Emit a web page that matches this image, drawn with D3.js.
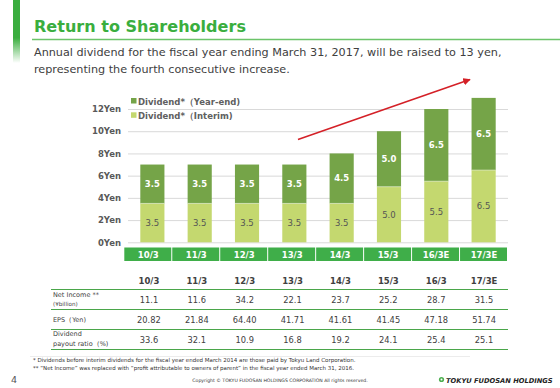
<!DOCTYPE html>
<html><head><meta charset="utf-8">
<script src="https://cdn.jsdelivr.net/npm/d3@7"></script>
<style>
html,body{margin:0;padding:0;background:#fff;}
svg{display:block;font-family:"DejaVu Sans",Verdana,sans-serif;}
</style></head>
<body>
<script>
const categories = ["10/3","11/3","12/3","13/3","14/3","15/3","16/3E","17/3E"];
const interim = [3.5,3.5,3.5,3.5,3.5,5.0,5.5,6.5];
const yearEnd = [3.5,3.5,3.5,3.5,4.5,5.0,6.5,6.5];
const yTicks = [0,2,4,6,8,10,12];
const tableCols = ["10/3","11/3","12/3","13/3","14/3","15/3","16/3","17/3E"];
const netIncome = ["11.1","11.6","34.2","22.1","23.7","25.2","28.7","31.5"];
const eps = ["20.82","21.84","64.40","41.71","41.61","41.45","47.18","51.74"];
const payout = ["33.6","32.1","10.9","16.8","19.2","24.1","25.4","25.1"];

const W=560,H=388;
const svg=d3.select("body").append("svg").attr("width",W).attr("height",H);
const defs=svg.append("defs");
const g1=defs.append("linearGradient").attr("id","vbar").attr("x1",0).attr("x2",0).attr("y1",0).attr("y2",1);
g1.append("stop").attr("offset","0%").attr("stop-color","#3bae3f");
g1.append("stop").attr("offset","60%").attr("stop-color","#3bae3f");
g1.append("stop").attr("offset","100%").attr("stop-color","#3bae3f").attr("stop-opacity",0);
svg.append("rect").attr("x",13).attr("y",0).attr("width",7).attr("height",63).attr("fill","url(#vbar)");

function fit(t,w){const L=t.node().getComputedTextLength(); const fs=parseFloat(t.attr("font-size")); t.attr("font-size",fs*w/L);}

const title=svg.append("text").attr("x",34).attr("y",32).attr("font-size",19).attr("font-weight","bold").attr("fill","#3aae3e").text("Return to Shareholders");
fit(title,212);
svg.append("line").attr("x1",32).attr("x2",560).attr("y1",39.5).attr("y2",39.5).attr("stroke","#6cc46a").attr("stroke-width",1.3);
const s1=svg.append("text").attr("x",34).attr("y",56).attr("font-size",13).attr("fill","#404040").text("Annual dividend for the fiscal year ending March 31, 2017, will be raised to 13 yen,");
fit(s1,468);
const s2=svg.append("text").attr("x",34).attr("y",73).attr("font-size",parseFloat(s1.attr("font-size"))).attr("fill","#404040").text("representing the fourth consecutive increase.");

// chart
const x=d3.scaleBand().domain(categories).range([128,508]).paddingInner(0.49).paddingOuter(0.26);
const y=d3.scaleLinear().domain([0,12]).range([242.3,109]);
const yAxis=d3.axisLeft(y).tickValues(yTicks).tickSize(-(508-128)).tickFormat(d=>d+"Yen");
const ya=svg.append("g").attr("transform","translate(128,0)").call(yAxis);
ya.select(".domain").remove();
ya.selectAll(".tick line").attr("stroke","#d9d9d9").attr("stroke-width",1);
ya.selectAll(".tick text").attr("x",-7).attr("font-size",8.5).attr("font-weight","bold").attr("fill","#595959").attr("font-family","DejaVu Sans,Verdana,sans-serif");

const bars=svg.append("g");
categories.forEach((c,i)=>{
  const bx=x(c), bw=x.bandwidth();
  bars.append("rect").attr("x",bx).attr("width",bw).attr("y",y(interim[i])).attr("height",y(0)-y(interim[i])).attr("fill","#c4d86f");
  bars.append("rect").attr("x",bx).attr("width",bw).attr("y",y(interim[i]+yearEnd[i])).attr("height",y(interim[i])-y(interim[i]+yearEnd[i])).attr("fill","#75a448");
  bars.append("line").attr("x1",bx).attr("x2",bx+bw).attr("y1",y(interim[i])).attr("y2",y(interim[i])).attr("stroke","#e8f0d0").attr("stroke-width",0.6);
  bars.append("text").attr("x",bx+bw/2).attr("y",(y(0)+y(interim[i]))/2+3).attr("text-anchor","middle").attr("font-size",8.5).attr("fill","#555").text(interim[i].toFixed(1));
  bars.append("text").attr("x",bx+bw/2).attr("y",(y(interim[i])+y(interim[i]+yearEnd[i]))/2+3).attr("text-anchor","middle").attr("font-size",8.5).attr("font-weight","bold").attr("fill","#ffffff").text(yearEnd[i].toFixed(1));
});

// category boxes
const xb=d3.scaleBand().domain(categories).range([124.3,508]);
const cb=svg.append("g");
categories.forEach(c=>{
  cb.append("rect").attr("x",xb(c)).attr("y",247.5).attr("width",xb.bandwidth()-1).attr("height",13.5).attr("fill","#3fae49");
  cb.append("text").attr("x",xb(c)+xb.bandwidth()/2).attr("y",257.5).attr("text-anchor","middle").attr("font-size",8.5).attr("font-weight","bold").attr("fill","#fff").text(c);
});

// legend
const leg=[["#75a448","Dividend*（Year-end)"],["#c4d86f","Dividend*（Interim)"]];
leg.forEach((d,i)=>{
  svg.append("rect").attr("x",131).attr("y",98+i*14.3).attr("width",5.5).attr("height",5.5).attr("fill",d[0]);
  svg.append("text").attr("x",138).attr("y",104.5+i*14.3).attr("font-size",8.5).attr("font-weight","bold").attr("fill","#606060").text(d[1]);
});

// arrow
defs.append("marker").attr("id","ah").attr("viewBox","0 0 10 10").attr("refX",9).attr("refY",5).attr("markerWidth",5).attr("markerHeight",5).attr("orient","auto")
  .append("path").attr("d","M0,0L10,5L0,10z").attr("fill","#d42027");
svg.append("line").attr("x1",298).attr("y1",139.5).attr("x2",470).attr("y2",79.5).attr("stroke","#d42027").attr("stroke-width",1.5).attr("marker-end","url(#ah)");

// table
const xt=d3.scaleBand().domain(tableCols).range([125,508]);
const tg=svg.append("g");
tableCols.forEach(c=>{
  tg.append("text").attr("x",xt(c)+xt.bandwidth()/2).attr("y",283.5).attr("text-anchor","middle").attr("font-size",8.5).attr("font-weight","bold").attr("fill","#404040").text(c);
});
[289.5,309.5,329.5,349.5].forEach(ly=>tg.append("line").attr("x1",51).attr("x2",508).attr("y1",ly).attr("y2",ly).attr("stroke","#4aa64a").attr("stroke-width",1));
const rows=[netIncome,eps,payout];
rows.forEach((r,ri)=>{
  tableCols.forEach((c,ci)=>{
    tg.append("text").attr("x",xt(c)+xt.bandwidth()/2).attr("y",302.5+ri*20).attr("text-anchor","middle").attr("font-size",8.3).attr("fill","#404040").text(r[ci]);
  });
});
const lab=(t,yy,fs)=>tg.append("text").attr("x",53).attr("y",yy).attr("font-size",fs).attr("fill","#404040").text(t);
lab("Net Income **",297,6.5); lab("(¥billion)",305.5,5.6);
lab("EPS（Yen)",322,6.5);
lab("Dividend",336,6.5); lab("payout ratio（%)",346,6.5);

// footnotes
svg.append("line").attr("x1",30).attr("x2",470).attr("y1",356.5).attr("y2",356.5).attr("stroke","#ececec").attr("stroke-width",1);
svg.append("text").attr("x",33).attr("y",362).attr("font-size",5.5).attr("fill","#333").text("* Dividends before interim dividends for the fiscal year ended March 2014 are those paid by Tokyu Land Corporation.");
svg.append("text").attr("x",33).attr("y",370).attr("font-size",5.5).attr("fill","#333").text("** “Net Income” was replaced with “profit attributable to owners of parent” in the fiscal year ended March 31, 2016.");
svg.append("text").attr("x",11).attr("y",383).attr("font-size",9.5).attr("fill","#555").text("4");
svg.append("text").attr("x",280).attr("y",382).attr("text-anchor","middle").attr("font-size",4.6).attr("fill","#333").text("Copyright © TOKYU FUDOSAN HOLDINGS CORPORATION All rights reserved.");
svg.append("circle").attr("cx",441.5).attr("cy",379.5).attr("r",2.6).attr("fill","#4caf50");
svg.append("circle").attr("cx",441.5).attr("cy",379.5).attr("r",1).attr("fill","#fff");
const logo=svg.append("text").attr("x",446).attr("y",382.5).attr("font-size",7.5).attr("font-weight","bold").attr("font-style","italic").attr("fill","#222").text("TOKYU FUDOSAN HOLDINGS");
fit(logo,107);
</script>
</body></html>
